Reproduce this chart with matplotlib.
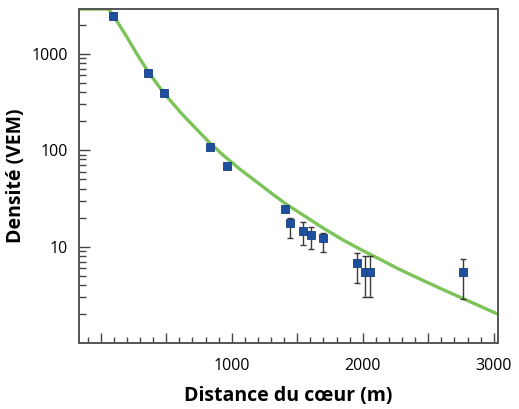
import matplotlib
matplotlib.use("Agg")
import matplotlib.pyplot as plt
from matplotlib.ticker import FixedLocator, FixedFormatter, LogLocator, NullFormatter

plt.rcParams['font.family'] = ['Open Sans', 'DejaVu Sans']

# measured densities (distance in m, density in VEM) with error bar ends
dist = [94, 363, 482, 837, 964, 1408, 1446, 1547, 1603, 1694, 1953, 2017, 2055, 2765]
dens = [2480, 630, 390, 107, 69, 24.3, 17.4, 14.5, 13.2, 12.4, 6.8, 5.5, 5.5, 5.4]
dens_lo = [2350, 600, 370, 101, 65, 22.8, 12.2, 10.4, 9.4, 8.9, 4.2, 3.0, 3.0, 2.9]
dens_hi = [2600, 665, 410, 113, 73, 25.8, 19.7, 18.0, 16.0, 14.0, 8.5, 8.0, 8.0, 7.4]

# fitted curve
fit_x = [-170, 60, 94, 150, 200, 270, 363, 482, 622, 750, 837, 950, 1065, 1180, 1300,
         1408, 1550, 1700, 1850, 2000, 2131, 2270, 2410, 2590, 2765, 2900, 3030]
fit_y = [2900, 2900, 2500, 1900, 1480, 1020, 645, 390, 235, 155, 117, 85, 63, 48, 36,
         28, 21, 15.5, 11.7, 9.1, 7.4, 5.9, 4.8, 3.7, 2.9, 2.4, 2.0]

xticks = [0, 500, 1000, 1500, 2000, 2500, 3000]
xticklabels = ['', '', '1000', '', '2000', '', '3000']
yticks = [10, 100, 1000]
yticklabels = ['10', '100', '1000']

fig = plt.figure(figsize=(5.19, 4.09), dpi=100)
ax = fig.add_axes([0.152, 0.161, 0.807, 0.817])

ax.plot(fit_x, fit_y, color='#7cc35a', lw=2.4, zorder=2, solid_capstyle='butt',
        solid_joinstyle='round')

err = [[d - l for d, l in zip(dens, dens_lo)], [h - d for d, h in zip(dens, dens_hi)]]
ax.errorbar(dist, dens, yerr=err, fmt='none', ecolor='#3a3a3a', elinewidth=1.0,
            capsize=2.5, capthick=1.0, zorder=3)
ax.plot(dist, dens, 's', color='#1f4f9f', mec='#173e80', mew=0.6, ms=6.2, zorder=4)

ax.set_yscale('log')
ax.set_xlim(-167, 3030)
ax.set_ylim(1, 2900)

ax.xaxis.set_major_locator(FixedLocator(xticks))
ax.xaxis.set_major_formatter(FixedFormatter(xticklabels))
ax.xaxis.set_minor_locator(FixedLocator(list(range(-100, 3001, 100))))
ax.yaxis.set_major_locator(FixedLocator(yticks))
ax.yaxis.set_major_formatter(FixedFormatter(yticklabels))
ax.yaxis.set_minor_locator(LogLocator(base=10, subs=[2, 3, 4, 5, 6, 7, 8, 9]))
ax.yaxis.set_minor_formatter(NullFormatter())

ax.tick_params(axis='x', which='major', direction='in', length=7, width=1, color='#444444',
               labelsize=11.5, pad=11)
ax.tick_params(axis='x', which='minor', direction='in', length=4, width=1, color='#444444')
ax.tick_params(axis='y', which='major', direction='in', length=8, width=1, color='#444444',
               labelsize=11.5, pad=8)
ax.tick_params(axis='y', which='minor', direction='in', length=5, width=1, color='#444444')

for s in ax.spines.values():
    s.set_color('#555555')
    s.set_linewidth(1.4)

ax.set_xlabel('Distance du cœur (m)', fontsize=14, fontweight='bold', labelpad=8)
ax.set_ylabel('Densité (VEM)', fontsize=14, fontweight='bold', labelpad=4)

fig.savefig('out.png', dpi=100)
